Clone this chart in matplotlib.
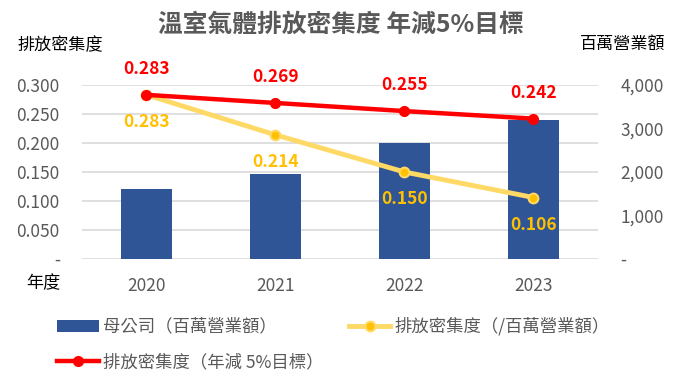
import matplotlib
matplotlib.use("Agg")
import matplotlib.pyplot as plt
from matplotlib.ticker import FuncFormatter

plt.rcParams['font.family'] = ['Noto Sans CJK TC', 'DejaVu Sans']

years = ["2020", "2021", "2022", "2023"]
revenue = [1610, 1955, 2675, 3195]
intensity = [0.283, 0.214, 0.150, 0.106]
target = [0.283, 0.269, 0.255, 0.242]
left_ticks = [0, 0.05, 0.10, 0.15, 0.20, 0.25, 0.30]
right_ticks = [0, 1000, 2000, 3000, 4000]

GRAY = "#595959"
BLUE = "#2F5597"
YEL_LINE = "#FFD966"
YEL = "#FFC000"
RED = "#FF0000"

fig = plt.figure(figsize=(6.81, 3.92), dpi=100)
ax = fig.add_axes([0.1204, 0.3393, 0.7577, 0.4439])
ax2 = ax.twinx()

x = list(range(len(years)))
ax.set_zorder(2)
ax.patch.set_visible(False)

bars = ax2.bar(x, revenue, width=0.4, color=BLUE, zorder=2, label="母公司（百萬營業額）")
ax2.set_ylim(0, 4000)
ax2.set_yticks(right_ticks)
ax2.yaxis.set_major_formatter(FuncFormatter(lambda v, p: "-" if v == 0 else f"{int(v):,}"))

l_y, = ax.plot(x, intensity, color=YEL_LINE, lw=3.5, marker='o', ms=7,
               mfc=YEL, mec=YEL_LINE, mew=1.5, zorder=3, label="排放密集度（/百萬營業額）")
l_r, = ax.plot(x, target, color=RED, lw=3.2, marker='o', ms=7,
               mfc=RED, mec=RED, zorder=4, label="排放密集度（年減 5%目標）")
ax.set_ylim(0, 0.30)
ax.set_xlim(-0.5, 3.5)
ax.set_yticks(left_ticks)
ax.yaxis.set_major_formatter(FuncFormatter(lambda v, p: "-" if abs(v) < 1e-9 else f"{v:.3f}"))
ax.set_xticks(x)
ax.set_xticklabels(years)

for a in (ax, ax2):
    for s in a.spines.values():
        s.set_visible(False)
    a.tick_params(length=0, labelsize=12.5, labelcolor=GRAY)
ax.tick_params(axis='y', pad=16)
ax2.tick_params(axis='y', pad=16)
ax.tick_params(axis='x', pad=13)

ax2.grid(False)
for t in left_ticks:
    ax2.axhline(t / 0.30 * 4000, color="#D9D9D9", lw=1.2, zorder=0)

for xi, v in zip(x, target):
    ax.annotate(f"{v:.3f}", (xi, v), xytext=(0, 18.5), textcoords="offset points",
                ha='center', va='center', color=RED, fontsize=12.5, fontweight='bold', zorder=6)
for xi, v in zip(x, intensity):
    ax.annotate(f"{v:.3f}", (xi, v), xytext=(0, -19.5), textcoords="offset points",
                ha='center', va='center', color=YEL, fontsize=12.5, fontweight='bold', zorder=6)

fig.text(0.5, 0.936, "溫室氣體排放密集度 年減5%目標", ha='center', va='center',
         fontsize=17.8, fontweight='bold', color=GRAY)
fig.text(0.026, 0.885, "排放密集度", ha='left', va='center', fontsize=12.3, color='black')
fig.text(0.977, 0.888, "百萬營業額", ha='right', va='center', fontsize=12.3, color='black')
fig.text(0.038, 0.278, "年度", ha='left', va='center', fontsize=12.3, color='black')

leg = fig.legend(handles=[bars, l_r, l_y], loc='upper left', bbox_to_anchor=(0.0837, 0.191),
                 ncol=2, frameon=False, fontsize=12.5, handlelength=2.4, handletextpad=0.25,
                 columnspacing=1.45, labelspacing=1.0, borderaxespad=0, borderpad=0)
for t in leg.get_texts():
    t.set_color(GRAY)

fig.savefig("out.png", dpi=100)
